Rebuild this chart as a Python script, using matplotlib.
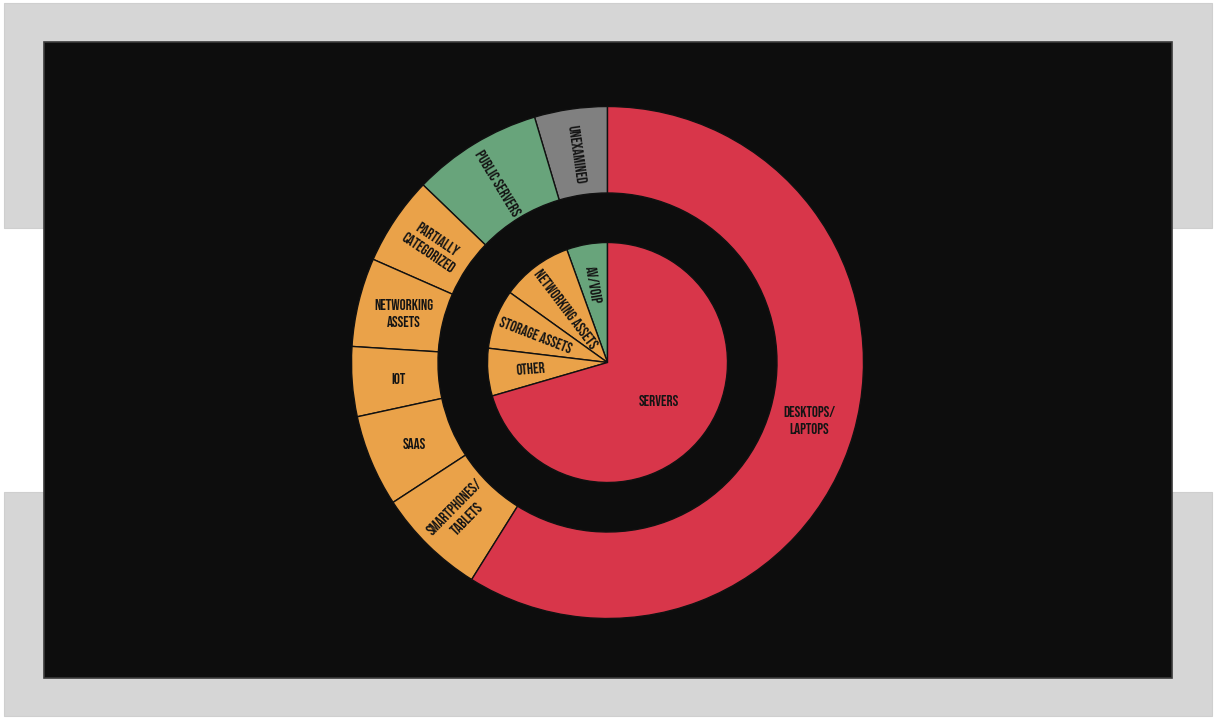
import numpy as np
import matplotlib
matplotlib.use("Agg")
import matplotlib.pyplot as plt
from matplotlib.patches import Rectangle
from matplotlib import font_manager

# outer ring (counter-clockwise from 12 o'clock)
outer_labels = ["UNEXAMINED", "PUBLIC SERVERS", "PARTIALLY\nCATEGORIZED", "NETWORKING\nASSETS",
                "IOT", "SAAS", "SMARTPHONES/\nTABLETS", "DESKTOPS/\nLAPTOPS"]
outer_values = [4.6, 8.2, 5.6, 5.6, 4.4, 5.8, 6.9, 58.9]
outer_colors = ["#808080", "#68a47b", "#eaa249", "#eaa249", "#eaa249", "#eaa249", "#eaa249", "#d8364a"]
outer_radial = [True, True, True, False, False, False, True, False]

# inner pie
inner_labels = ["AV/VOIP", "NETWORKING ASSETS", "STORAGE ASSETS", "OTHER", "SERVERS"]
inner_values = [5.5, 9.6, 8.0, 6.4, 70.5]
inner_colors = ["#68a47b", "#eaa249", "#eaa249", "#eaa249", "#d8364a"]
inner_radial = [True, True, True, True, False]
inner_lab_r = [0.31, 0.265, 0.30, 0.30, 0.25]

names = set(f.name for f in font_manager.fontManager.ttflist)
fam = "DejaVu Sans"
for cand in ["Bebas Neue", "Oswald", "Barlow Condensed", "Archivo Narrow", "Asap Condensed"]:
    if cand in names:
        fam = cand
        break

W, H = 1216, 718
fig = plt.figure(figsize=(W / 100, H / 100), dpi=100, facecolor="white")

bg = fig.add_axes([0, 0, 1, 1])
bg.set_xlim(0, W)
bg.set_ylim(H, 0)
bg.axis("off")
bg.add_patch(Rectangle((4, 3), 1208, 225, facecolor="#d6d6d6", edgecolor="#cfcfcf", lw=0.8))
bg.add_patch(Rectangle((4, 492), 1208, 224, facecolor="#d6d6d6", edgecolor="#cfcfcf", lw=0.8))
bg.add_patch(Rectangle((44, 42), 1128, 636, facecolor="#0d0d0d", edgecolor="#3a3a3a", lw=1.2))

cx, cy, R = 607.5, 362.5, 256
ax = fig.add_axes([(cx - R) / W, (H - cy - R) / H, 2 * R / W, 2 * R / H])
ax.axis("off")

r_ring_in = 169.5 / R
r_inner = 120 / R

wedge_kw = dict(edgecolor="#111111", linewidth=1.0)
w1, _ = ax.pie(outer_values, colors=outer_colors, startangle=90, counterclock=True,
               radius=1.0, wedgeprops=dict(width=1.0 - r_ring_in, **wedge_kw))
w2, _ = ax.pie(inner_values, colors=inner_colors, startangle=90, counterclock=True,
               radius=r_inner, wedgeprops=wedge_kw)
ax.set_xlim(-1, 1)
ax.set_ylim(-1, 1)
ax.set_aspect("equal")


def put_labels(wedges, labels, radial, rpos, fs):
    for w, lab, rad, rp in zip(wedges, labels, radial, rpos):
        th = (w.theta1 + w.theta2) / 2.0
        t = np.deg2rad(th)
        x, y = rp * np.cos(t), rp * np.sin(t)
        rot = 0
        if rad:
            a = th % 360
            rot = a - 180 if 90 < a < 270 else a
        ax.text(x, y, lab, ha="center", va="center", rotation=rot,
                rotation_mode="anchor", fontsize=fs, color="#141414",
                family=[fam, "DejaVu Sans"], linespacing=1.55)


put_labels(w1, outer_labels, outer_radial, [0.82] * len(outer_labels), 10.8)
put_labels(w2, inner_labels, inner_radial, inner_lab_r, 10.8)

fig.savefig("out.png", dpi=100, facecolor="white")
